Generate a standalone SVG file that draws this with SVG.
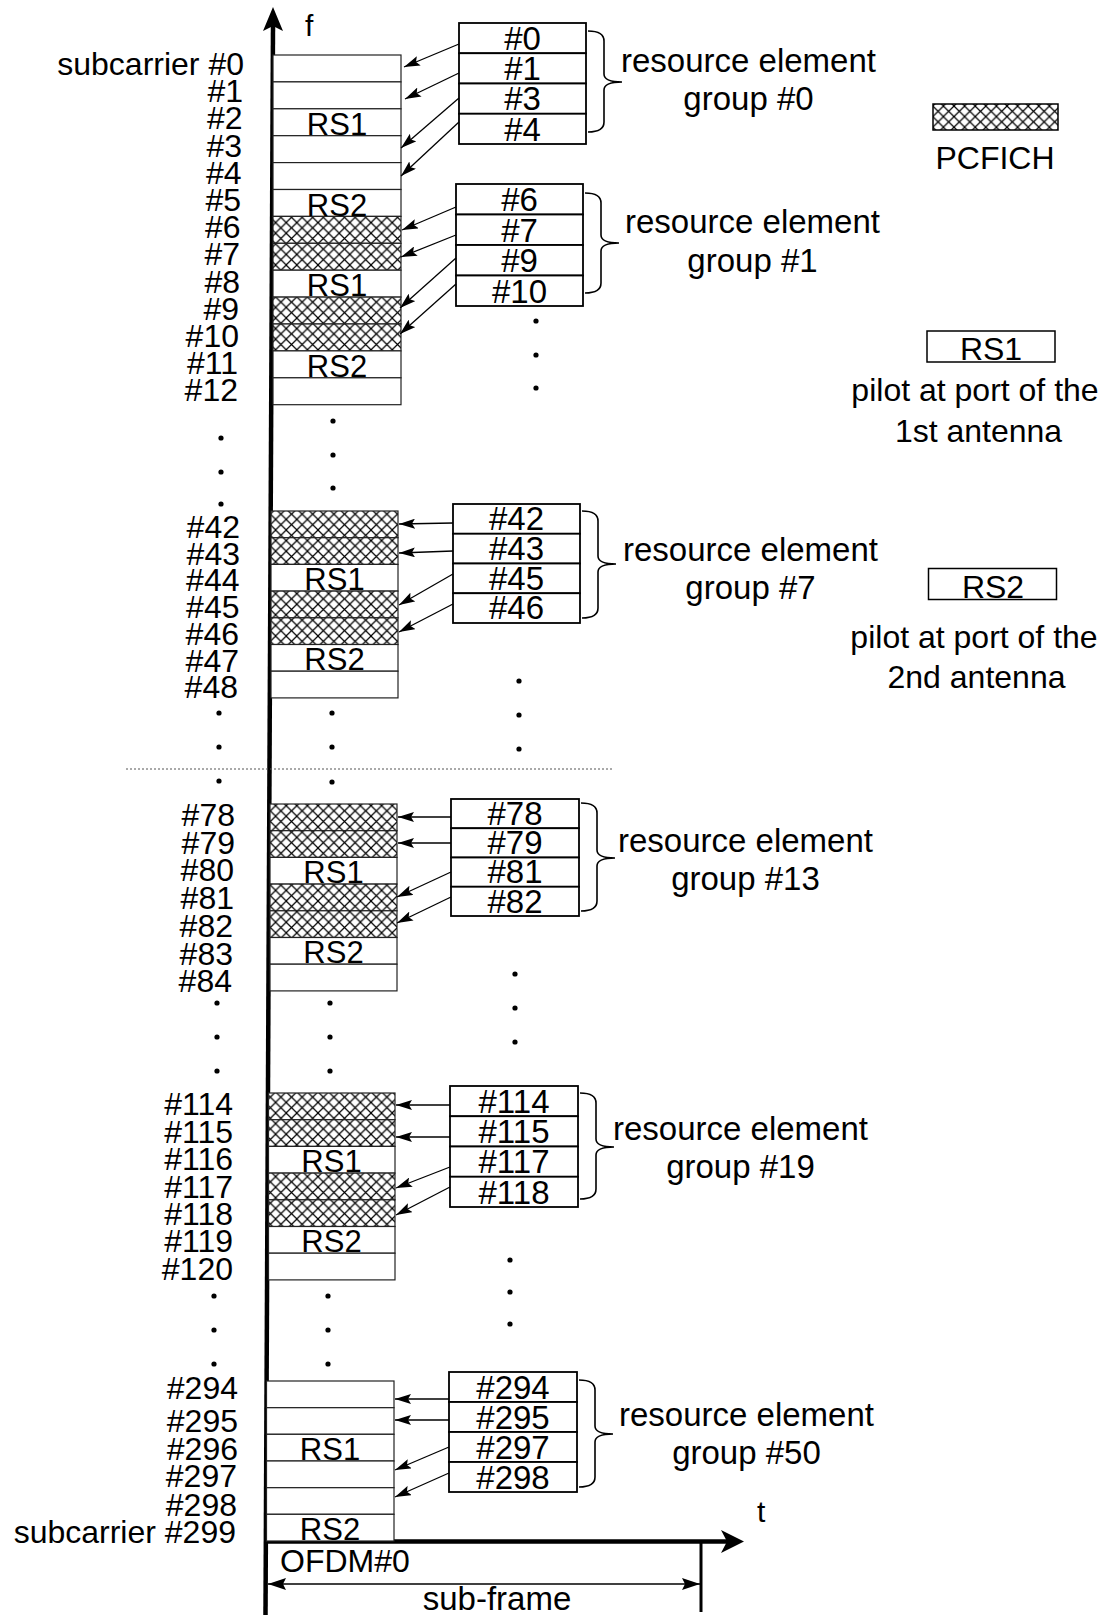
<svg xmlns="http://www.w3.org/2000/svg" width="1112" height="1615" viewBox="0 0 1112 1615">
<defs>
<pattern id="xh" patternUnits="userSpaceOnUse" width="10.6" height="10.6">
<rect width="10.6" height="10.6" fill="#fff"/>
<path d="M0,0 L10.6,10.6 M10.6,0 L0,10.6" stroke="#000" stroke-width="1.2"/>
</pattern>
<marker id="ah" markerUnits="userSpaceOnUse" viewBox="0 0 16 10" markerWidth="16" markerHeight="10" refX="16" refY="5" orient="auto">
<path d="M0,0 L16,5 L0,10 L3,5 Z" fill="#000"/>
</marker>
<marker id="ah2" markerUnits="userSpaceOnUse" viewBox="0 0 18 12" markerWidth="18" markerHeight="12" refX="18" refY="6" orient="auto-start-reverse">
<path d="M0,0 L18,6 L0,12 L3,6 Z" fill="#000"/>
</marker>
<style>
text{font-family:"Liberation Sans",Arial,Helvetica,sans-serif;fill:#000}
.cell{fill:#fff;stroke:#222;stroke-width:1.2}
.hx{fill:url(#xh);stroke:#222;stroke-width:1.2}
.box{fill:#fff;stroke:#000;stroke-width:1.8}
.lbl{font-size:32px;text-anchor:end}
.rs{font-size:31px;text-anchor:middle}
.bt{font-size:33px;text-anchor:middle}
.gt{font-size:33px;text-anchor:middle}
.lg{font-size:32px;text-anchor:middle}
.arr{stroke:#000;stroke-width:1.3;fill:none;marker-end:url(#ah)}
.brace{fill:none;stroke:#000;stroke-width:1.6}
.dot{fill:#000}
</style>
</defs>

<!-- axes -->
<g id="axes">
<line x1="273" y1="26" x2="265.5" y2="1615" stroke="#000" stroke-width="4.5"/>
<polygon points="273,7 283,31 273,26 263,31" fill="#000"/>
<text x="305" y="36" font-size="30">f</text>
<line x1="265" y1="1541.5" x2="728" y2="1541.5" stroke="#000" stroke-width="4.5"/>
<polygon points="744,1541.5 721,1530 727,1541.5 721,1553" fill="#000"/>
<text x="757" y="1522" font-size="30">t</text>
<line x1="701" y1="1541" x2="701" y2="1612" stroke="#000" stroke-width="3"/>
<line x1="268" y1="1584" x2="700" y2="1584" stroke="#000" stroke-width="1.3" marker-start="url(#ah2)" marker-end="url(#ah2)"/>
<text x="280" y="1572" font-size="32">OFDM#0</text>
<text x="497" y="1610" font-size="33" text-anchor="middle">sub-frame</text>
</g>

<!-- block A: subcarriers 0-12 -->
<g id="blockA">
<rect class="cell" x="273" y="55" width="128" height="26.9"/>
<rect class="cell" x="273" y="81.9" width="128" height="26.9"/>
<rect class="cell" x="273" y="108.8" width="128" height="26.9"/>
<rect class="cell" x="273" y="135.7" width="128" height="26.9"/>
<rect class="cell" x="273" y="162.6" width="128" height="26.9"/>
<rect class="cell" x="273" y="189.5" width="128" height="26.9"/>
<rect class="hx" x="273" y="216.4" width="128" height="26.9"/>
<rect class="hx" x="273" y="243.3" width="128" height="26.9"/>
<rect class="cell" x="273" y="270.2" width="128" height="26.9"/>
<rect class="hx" x="273" y="297.1" width="128" height="26.9"/>
<rect class="hx" x="273" y="324" width="128" height="26.9"/>
<rect class="cell" x="273" y="350.9" width="128" height="26.9"/>
<rect class="cell" x="273" y="377.8" width="128" height="26.9"/>
<text class="rs" x="337" y="135">RS1</text>
<text class="rs" x="337" y="215.5">RS2</text>
<text class="rs" x="337" y="296">RS1</text>
<text class="rs" x="337" y="377">RS2</text>
<text class="lbl" x="244" y="75">subcarrier #0</text>
<text class="lbl" x="243" y="102.2">#1</text>
<text class="lbl" x="242.5" y="129.4">#2</text>
<text class="lbl" x="242" y="156.6">#3</text>
<text class="lbl" x="241.5" y="183.8">#4</text>
<text class="lbl" x="241" y="211">#5</text>
<text class="lbl" x="240.5" y="238.2">#6</text>
<text class="lbl" x="240" y="265.4">#7</text>
<text class="lbl" x="240" y="292.6">#8</text>
<text class="lbl" x="239" y="319.8">#9</text>
<text class="lbl" x="239" y="347">#10</text>
<text class="lbl" x="238" y="374.2">#11</text>
<text class="lbl" x="238" y="401.4">#12</text>
</g>

<!-- block B: 42-48 -->
<g id="blockB">
<rect class="hx" x="271" y="511" width="127" height="26.7"/>
<rect class="hx" x="271" y="537.7" width="127" height="26.7"/>
<rect class="cell" x="271" y="564.4" width="127" height="26.7"/>
<rect class="hx" x="271" y="591.1" width="127" height="26.7"/>
<rect class="hx" x="271" y="617.8" width="127" height="26.7"/>
<rect class="cell" x="271" y="644.5" width="127" height="26.7"/>
<rect class="cell" x="271" y="671.2" width="127" height="26.7"/>
<text class="rs" x="334.5" y="590">RS1</text>
<text class="rs" x="334.5" y="670">RS2</text>
<text class="lbl" x="240" y="538">#42</text>
<text class="lbl" x="240" y="564.7">#43</text>
<text class="lbl" x="239.5" y="591.4">#44</text>
<text class="lbl" x="239.5" y="618.1">#45</text>
<text class="lbl" x="239" y="644.8">#46</text>
<text class="lbl" x="239" y="671.5">#47</text>
<text class="lbl" x="238" y="698">#48</text>
</g>

<!-- block C: 78-84 -->
<g id="blockC">
<rect class="hx" x="270" y="804" width="127" height="26.7"/>
<rect class="hx" x="270" y="830.7" width="127" height="26.7"/>
<rect class="cell" x="270" y="857.4" width="127" height="26.7"/>
<rect class="hx" x="270" y="884.1" width="127" height="26.7"/>
<rect class="hx" x="270" y="910.8" width="127" height="26.7"/>
<rect class="cell" x="270" y="937.5" width="127" height="26.7"/>
<rect class="cell" x="270" y="964.2" width="127" height="26.7"/>
<text class="rs" x="333.5" y="883">RS1</text>
<text class="rs" x="333.5" y="963">RS2</text>
<text class="lbl" x="235" y="826">#78</text>
<text class="lbl" x="235" y="853.7">#79</text>
<text class="lbl" x="234" y="881.4">#80</text>
<text class="lbl" x="234" y="909.1">#81</text>
<text class="lbl" x="233" y="936.8">#82</text>
<text class="lbl" x="233" y="964.5">#83</text>
<text class="lbl" x="232" y="992">#84</text>
</g>

<!-- block D: 114-120 -->
<g id="blockD">
<rect class="hx" x="268.5" y="1093" width="126.5" height="26.7"/>
<rect class="hx" x="268.5" y="1119.7" width="126.5" height="26.7"/>
<rect class="cell" x="268.5" y="1146.4" width="126.5" height="26.7"/>
<rect class="hx" x="268.5" y="1173.1" width="126.5" height="26.7"/>
<rect class="hx" x="268.5" y="1199.8" width="126.5" height="26.7"/>
<rect class="cell" x="268.5" y="1226.5" width="126.5" height="26.7"/>
<rect class="cell" x="268.5" y="1253.2" width="126.5" height="26.7"/>
<text class="rs" x="331.5" y="1172">RS1</text>
<text class="rs" x="331.5" y="1252">RS2</text>
<text class="lbl" x="233" y="1115">#114</text>
<text class="lbl" x="233" y="1143">#115</text>
<text class="lbl" x="233" y="1170">#116</text>
<text class="lbl" x="233" y="1198">#117</text>
<text class="lbl" x="233" y="1225">#118</text>
<text class="lbl" x="233" y="1252">#119</text>
<text class="lbl" x="233" y="1280">#120</text>
</g>

<!-- block E: 294-299 -->
<g id="blockE">
<rect class="cell" x="266.5" y="1381" width="127.5" height="26.7"/>
<rect class="cell" x="266.5" y="1407.7" width="127.5" height="26.6"/>
<rect class="cell" x="266.5" y="1434.3" width="127.5" height="26.7"/>
<rect class="cell" x="266.5" y="1461" width="127.5" height="26.7"/>
<rect class="cell" x="266.5" y="1487.7" width="127.5" height="26.6"/>
<rect class="cell" x="266.5" y="1514.3" width="127.5" height="26.7"/>
<text class="rs" x="330" y="1460">RS1</text>
<text class="rs" x="330" y="1540">RS2</text>
<text class="lbl" x="238" y="1399">#294</text>
<text class="lbl" x="238" y="1432">#295</text>
<text class="lbl" x="238" y="1460">#296</text>
<text class="lbl" x="237" y="1487">#297</text>
<text class="lbl" x="237" y="1516">#298</text>
<text class="lbl" x="236" y="1543">subcarrier #299</text>
</g>

<!-- ellipsis dots and separator -->
<g id="ellipses">
<circle class="dot" cx="221" cy="438" r="2.6"/><circle class="dot" cx="221" cy="472" r="2.6"/><circle class="dot" cx="221" cy="504" r="2.6"/>
<circle class="dot" cx="333" cy="421" r="2.6"/><circle class="dot" cx="333" cy="455" r="2.6"/><circle class="dot" cx="333" cy="488" r="2.6"/>
<circle class="dot" cx="536" cy="321" r="2.6"/><circle class="dot" cx="536" cy="355" r="2.6"/><circle class="dot" cx="536" cy="388" r="2.6"/>
<circle class="dot" cx="219" cy="713" r="2.6"/><circle class="dot" cx="219" cy="747" r="2.6"/><circle class="dot" cx="219" cy="781" r="2.6"/>
<circle class="dot" cx="332" cy="713" r="2.6"/><circle class="dot" cx="332" cy="747" r="2.6"/><circle class="dot" cx="332" cy="782" r="2.6"/>
<circle class="dot" cx="519" cy="681" r="2.6"/><circle class="dot" cx="519" cy="715" r="2.6"/><circle class="dot" cx="519" cy="749" r="2.6"/>
<circle class="dot" cx="217" cy="1003" r="2.6"/><circle class="dot" cx="217" cy="1037" r="2.6"/><circle class="dot" cx="217" cy="1071" r="2.6"/>
<circle class="dot" cx="330" cy="1003" r="2.6"/><circle class="dot" cx="330" cy="1037" r="2.6"/><circle class="dot" cx="330" cy="1071" r="2.6"/>
<circle class="dot" cx="515" cy="974" r="2.6"/><circle class="dot" cx="515" cy="1008" r="2.6"/><circle class="dot" cx="515" cy="1042" r="2.6"/>
<circle class="dot" cx="214" cy="1296" r="2.6"/><circle class="dot" cx="214" cy="1330" r="2.6"/><circle class="dot" cx="214" cy="1364" r="2.6"/>
<circle class="dot" cx="328" cy="1296" r="2.6"/><circle class="dot" cx="328" cy="1330" r="2.6"/><circle class="dot" cx="328" cy="1364" r="2.6"/>
<circle class="dot" cx="510" cy="1260" r="2.6"/><circle class="dot" cx="510" cy="1292" r="2.6"/><circle class="dot" cx="510" cy="1324" r="2.6"/>
<line x1="126" y1="769" x2="612" y2="769" stroke="#555" stroke-width="1" stroke-dasharray="2,2"/>
</g>

<!-- resource element group boxes -->
<g id="reg0">
<rect class="box" x="459" y="23" width="127" height="30.25"/>
<rect class="box" x="459" y="53.25" width="127" height="30.25"/>
<rect class="box" x="459" y="83.5" width="127" height="30.25"/>
<rect class="box" x="459" y="113.75" width="127" height="30.25"/>
<text class="bt" x="522.5" y="49.7">#0</text>
<text class="bt" x="522.5" y="80">#1</text>
<text class="bt" x="522.5" y="110.2">#3</text>
<text class="bt" x="522.5" y="140.5">#4</text>
<path class="brace" d="M588,31 Q604,31 604,41 L604,74 Q604,82 622,82 Q604,82 604,90 L604,122 Q604,132 588,132"/>
<text class="gt" x="748.5" y="72">resource element</text>
<text class="gt" x="748.5" y="110">group #0</text>
</g>
<g id="reg1">
<rect class="box" x="456" y="184" width="127" height="30.5"/>
<rect class="box" x="456" y="214.5" width="127" height="30.5"/>
<rect class="box" x="456" y="245" width="127" height="30.5"/>
<rect class="box" x="456" y="275.5" width="127" height="30.5"/>
<text class="bt" x="519.5" y="211">#6</text>
<text class="bt" x="519.5" y="241.5">#7</text>
<text class="bt" x="519.5" y="272">#9</text>
<text class="bt" x="519.5" y="302.5">#10</text>
<path class="brace" d="M585,193 Q601,193 601,203 L601,235 Q601,243 619,243 Q601,243 601,251 L601,283 Q601,293 585,293"/>
<text class="gt" x="752.5" y="233">resource element</text>
<text class="gt" x="752.5" y="272">group #1</text>
</g>
<g id="reg7">
<rect class="box" x="453" y="504" width="127" height="29.75"/>
<rect class="box" x="453" y="533.75" width="127" height="29.75"/>
<rect class="box" x="453" y="563.5" width="127" height="29.75"/>
<rect class="box" x="453" y="593.25" width="127" height="29.75"/>
<text class="bt" x="516.5" y="530">#42</text>
<text class="bt" x="516.5" y="559.8">#43</text>
<text class="bt" x="516.5" y="589.5">#45</text>
<text class="bt" x="516.5" y="619.3">#46</text>
<path class="brace" d="M582,511 Q598,511 598,521 L598,556 Q598,564 616,564 Q598,564 598,572 L598,608 Q598,618 582,618"/>
<text class="gt" x="750.5" y="561">resource element</text>
<text class="gt" x="750.5" y="599">group #7</text>
</g>
<g id="reg13">
<rect class="box" x="451" y="799" width="128" height="29.25"/>
<rect class="box" x="451" y="828.25" width="128" height="29.25"/>
<rect class="box" x="451" y="857.5" width="128" height="29.25"/>
<rect class="box" x="451" y="886.75" width="128" height="29.25"/>
<text class="bt" x="515" y="824.8">#78</text>
<text class="bt" x="515" y="854">#79</text>
<text class="bt" x="515" y="883.3">#81</text>
<text class="bt" x="515" y="912.5">#82</text>
<path class="brace" d="M581,803 Q597,803 597,813 L597,850 Q597,858 615,858 Q597,858 597,866 L597,901 Q597,911 581,911"/>
<text class="gt" x="745.5" y="852">resource element</text>
<text class="gt" x="745.5" y="890">group #13</text>
</g>
<g id="reg19">
<rect class="box" x="450" y="1086" width="128" height="30.25"/>
<rect class="box" x="450" y="1116.25" width="128" height="30.25"/>
<rect class="box" x="450" y="1146.5" width="128" height="30.25"/>
<rect class="box" x="450" y="1176.75" width="128" height="30.25"/>
<text class="bt" x="514" y="1112.7">#114</text>
<text class="bt" x="514" y="1143">#115</text>
<text class="bt" x="514" y="1173.2">#117</text>
<text class="bt" x="514" y="1203.5">#118</text>
<path class="brace" d="M580,1093 Q596,1093 596,1103 L596,1139 Q596,1147 614,1147 Q596,1147 596,1155 L596,1189 Q596,1199 580,1199"/>
<text class="gt" x="740.5" y="1140">resource element</text>
<text class="gt" x="740.5" y="1178">group #19</text>
</g>
<g id="reg50">
<rect class="box" x="449" y="1372" width="128" height="30"/>
<rect class="box" x="449" y="1402" width="128" height="30"/>
<rect class="box" x="449" y="1432" width="128" height="30"/>
<rect class="box" x="449" y="1462" width="128" height="30"/>
<text class="bt" x="513" y="1398.5">#294</text>
<text class="bt" x="513" y="1428.5">#295</text>
<text class="bt" x="513" y="1458.5">#297</text>
<text class="bt" x="513" y="1488.5">#298</text>
<path class="brace" d="M579,1380 Q595,1380 595,1390 L595,1426 Q595,1434 613,1434 Q595,1434 595,1442 L595,1477 Q595,1487 579,1487"/>
<text class="gt" x="746.5" y="1426">resource element</text>
<text class="gt" x="746.5" y="1464">group #50</text>
</g>

<!-- connectors -->
<g id="connectors">
<line class="arr" x1="459" y1="44" x2="404" y2="67"/>
<line class="arr" x1="459" y1="73" x2="405" y2="99"/>
<line class="arr" x1="459" y1="98" x2="401" y2="148"/>
<line class="arr" x1="459" y1="122" x2="401" y2="176"/>
<line class="arr" x1="456" y1="207" x2="402" y2="230"/>
<line class="arr" x1="456" y1="235" x2="401" y2="257"/>
<line class="arr" x1="456" y1="258" x2="400" y2="308"/>
<line class="arr" x1="456" y1="284" x2="400" y2="334"/>
<line class="arr" x1="453" y1="523" x2="399" y2="524"/>
<line class="arr" x1="453" y1="551" x2="399" y2="553"/>
<line class="arr" x1="453" y1="574" x2="399" y2="605"/>
<line class="arr" x1="453" y1="604" x2="399" y2="632"/>
<line class="arr" x1="451" y1="817" x2="398" y2="817"/>
<line class="arr" x1="451" y1="843" x2="398" y2="843"/>
<line class="arr" x1="451" y1="872" x2="397" y2="897"/>
<line class="arr" x1="451" y1="897" x2="397" y2="923"/>
<line class="arr" x1="450" y1="1105" x2="396" y2="1105"/>
<line class="arr" x1="450" y1="1137" x2="396" y2="1137"/>
<line class="arr" x1="450" y1="1167" x2="396" y2="1188"/>
<line class="arr" x1="450" y1="1187" x2="396" y2="1215"/>
<line class="arr" x1="449" y1="1399" x2="395" y2="1399"/>
<line class="arr" x1="449" y1="1420" x2="395" y2="1420"/>
<line class="arr" x1="449" y1="1447" x2="395" y2="1470"/>
<line class="arr" x1="449" y1="1473" x2="395" y2="1497"/>
</g>

<!-- legend -->
<g id="legend-pcfich">
<rect x="933" y="104" width="125" height="26" fill="url(#xh)" stroke="#000" stroke-width="1.5"/>
<text class="lg" x="995" y="169">PCFICH</text>
</g>
<g id="legend-rs1">
<rect x="927" y="331" width="128" height="31" fill="#fff" stroke="#000" stroke-width="1.5"/>
<text class="lg" x="991" y="360">RS1</text>
<text class="lg" x="975" y="401">pilot at port of the</text>
<text class="lg" x="978.5" y="442">1st antenna</text>
</g>
<g id="legend-rs2">
<rect x="928.5" y="568.5" width="128" height="31" fill="#fff" stroke="#000" stroke-width="1.5"/>
<text class="lg" x="993" y="598">RS2</text>
<text class="lg" x="974" y="648">pilot at port of the</text>
<text class="lg" x="976.5" y="688">2nd antenna</text>
</g>
</svg>
